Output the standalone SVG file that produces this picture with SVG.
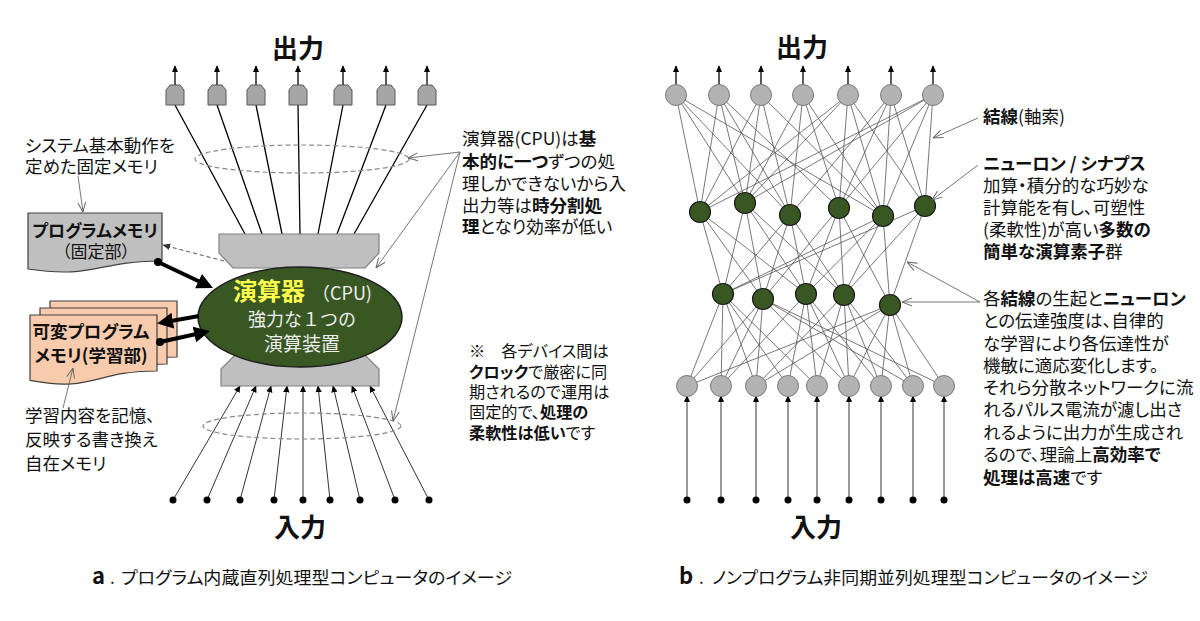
<svg xmlns="http://www.w3.org/2000/svg" width="1200" height="621" viewBox="0 0 1200 621">
<style>
text{font-family:"Noto Sans CJK JP","Noto Sans CJK SC",sans-serif;fill:#111;font-feature-settings:"palt";}
.b{font-weight:bold}
.ttl{font-size:26px;font-weight:bold;text-anchor:middle}
.s18{font-size:17.5px}
.s17{font-size:17px}
.s16{font-size:16.2px}
.cpu{fill:#eeeeee;font-feature-settings:normal}
.lead{stroke:#666;stroke-width:0.9;fill:none;marker-end:url(#open)}
.net{stroke:#555;stroke-width:0.8;fill:none}
.gnode{fill:#b3b3b3;stroke:#7a7a7a;stroke-width:1}
.hnode{fill:#385723;stroke:#1a1a1a;stroke-width:1.2}
.dot{fill:#000}
.inl{stroke:#333;stroke-width:1;marker-end:url(#arr)}
.outl{stroke:#000;stroke-width:1.3}
.dash{fill:none;stroke:#8a8a8a;stroke-width:1.2;stroke-dasharray:5 3}
.pent{fill:#a6a6a6;stroke:#595959;stroke-width:1}
.doc{stroke:#404040;stroke-width:1.2}
</style>
<defs>
<marker id="arr" viewBox="0 0 10 10" refX="9" refY="5" markerWidth="7" markerHeight="7" orient="auto" markerUnits="userSpaceOnUse"><path d="M0,0.5 L10,5 L0,9.5 Z" fill="#000"/></marker>
<marker id="open" viewBox="0 0 10 10" refX="10" refY="5" markerWidth="10" markerHeight="10" orient="auto" markerUnits="userSpaceOnUse"><path d="M0,1 L10,5 L0,9" fill="none" stroke="#666" stroke-width="1"/></marker>
<marker id="big" viewBox="0 0 10 10" refX="2" refY="5" markerWidth="16" markerHeight="16" orient="auto" markerUnits="userSpaceOnUse"><path d="M0,0 L10,5 L0,10 Z" fill="#000"/></marker>
<marker id="sm" viewBox="0 0 10 10" refX="9" refY="5" markerWidth="8" markerHeight="8" orient="auto" markerUnits="userSpaceOnUse"><path d="M0,1 L10,5 L0,9 Z" fill="#333"/></marker>
<path id="pent" d="M-9,20 V5 L-5,0 H5 L9,5 V20 Z"/>
</defs>
<rect width="1200" height="621" fill="#fff"/>

<!-- ===== Left panel ===== -->
<text class="ttl" x="298" y="58">出力</text>
<text class="ttl" x="300" y="537">入力</text>

<g id="connectors-left">
  <path class="outl" d="M175,105 L245,234 M217,105 L262,234 M256,105 L282,234 M298,105 L300,234 M343,105 L318,234 M386,105 L337,234 M427,105 L354,234"/>
  <g class="outl" style="marker-end:url(#arr)">
    <line x1="175" y1="85" x2="175" y2="66"/><line x1="217" y1="85" x2="217" y2="66"/><line x1="256" y1="85" x2="256" y2="66"/><line x1="298" y1="85" x2="298" y2="66"/><line x1="343" y1="85" x2="343" y2="66"/><line x1="386" y1="85" x2="386" y2="66"/><line x1="427" y1="85" x2="427" y2="66"/>
  </g>
  <line class="inl" x1="173" y1="500" x2="240" y2="386"/>
  <line class="inl" x1="207" y1="500" x2="256" y2="386"/>
  <line class="inl" x1="240" y1="500" x2="271" y2="386"/>
  <line class="inl" x1="274" y1="500" x2="287" y2="386"/>
  <line class="inl" x1="303" y1="500" x2="303" y2="386"/>
  <line class="inl" x1="330" y1="500" x2="318" y2="386"/>
  <line class="inl" x1="360" y1="500" x2="333" y2="386"/>
  <line class="inl" x1="395" y1="500" x2="352" y2="386"/>
  <line class="inl" x1="429" y1="500" x2="370" y2="386"/>
  <g class="dot"><circle cx="173" cy="500" r="3.5"/><circle cx="207" cy="500" r="3.5"/><circle cx="240" cy="500" r="3.5"/><circle cx="274" cy="500" r="3.5"/><circle cx="303" cy="500" r="3.5"/><circle cx="330" cy="500" r="3.5"/><circle cx="360" cy="500" r="3.5"/><circle cx="395" cy="500" r="3.5"/><circle cx="429" cy="500" r="3.5"/></g>
  <ellipse class="dash" cx="302" cy="159" rx="107" ry="14"/>
  <ellipse class="dash" cx="302" cy="426" rx="99" ry="13"/>
</g>

<g id="outputs-left">
  <use href="#pent" class="pent" x="175" y="85"/><use href="#pent" class="pent" x="217" y="85"/><use href="#pent" class="pent" x="256" y="85"/><use href="#pent" class="pent" x="298" y="85"/><use href="#pent" class="pent" x="343" y="85"/><use href="#pent" class="pent" x="386" y="85"/><use href="#pent" class="pent" x="427" y="85"/>
</g>

<g id="program-memory">
  <path class="doc" fill="#c0c0c0" d="M28,213 H162 V261 C95,261 95,279 28,269 Z"/>
  <text class="s17 b" x="95" y="237" text-anchor="middle">プログラムメモリ</text>
  <text class="s17" x="96" y="258" text-anchor="middle">（固定部）</text>
</g>

<g id="variable-memory">
  <path class="doc" fill="#f8cbad" d="M50,301 H177 V357 C113.5,357 113.5,378.5 50,366.4 Z"/>
  <path class="doc" fill="#f8cbad" d="M40,308 H167 V364 C103.5,364 103.5,385.5 40,373.4 Z"/>
  <path class="doc" fill="#f8cbad" d="M30,315 H157 V371 C93.5,371 93.5,392.5 30,380.4 Z"/>
  <text class="s18 b" x="91" y="338" text-anchor="middle">可変プログラム</text>
  <text class="s18 b" x="91" y="362" text-anchor="middle">メモリ(学習部)</text>
</g>

<g id="cpu">
  <path fill="#bfbfbf" stroke="#808080" stroke-width="1.2" d="M219,234 H379 V253 L365,268 H233 L219,253 Z"/>
  <path fill="#bfbfbf" stroke="#808080" stroke-width="1.2" d="M235,355 H365 L379,369 V386 H221 V369 Z"/>
  <ellipse cx="300" cy="317" rx="102" ry="50" fill="#385723" stroke="#1f1f1f" stroke-width="1.5"/>
  <text x="233" y="300" font-size="24" font-weight="bold" style="fill:#ffff4d">演算器</text>
  <text class="cpu" x="312" y="300" font-size="18">（CPU)</text>
  <text class="cpu" x="302" y="326" font-size="18" text-anchor="middle">強力な１つの</text>
  <text class="cpu" x="302" y="351" font-size="19" text-anchor="middle">演算装置</text>
</g>

<g id="memory-arrows">
  <line x1="224" y1="261" x2="163" y2="245" stroke="#555" stroke-width="1" stroke-dasharray="4 3" marker-end="url(#sm)"/>
  <circle cx="158" cy="262" r="4" fill="#000"/>
  <line x1="158" y1="262" x2="201.4" y2="282.5" stroke="#000" stroke-width="4" marker-end="url(#big)"/>
  <line x1="199" y1="316" x2="169.7" y2="321.2" stroke="#000" stroke-width="4" marker-end="url(#big)"/>
  <circle cx="160" cy="342" r="4" fill="#000"/>
  <line x1="160" y1="342" x2="197.5" y2="333.8" stroke="#000" stroke-width="4" marker-end="url(#big)"/>
</g>

<g id="notes-left">
  <line class="lead" x1="78" y1="176" x2="83" y2="212"/>
  <text class="s18" x="25" y="152">システム基本動作を</text>
  <text class="s18" x="25" y="173">定めた固定メモリ</text>
  <line class="lead" x1="63" y1="408" x2="73" y2="368"/>
  <text class="s18" x="25" y="422">学習内容を記憶、</text>
  <text class="s18" x="25" y="446">反映する書き換え</text>
  <text class="s18" x="25" y="470">自在メモリ</text>
  <line class="lead" x1="460" y1="152" x2="408" y2="158"/>
  <line class="lead" x1="460" y1="152" x2="376" y2="268"/>
  <line class="lead" x1="460" y1="152" x2="393" y2="421"/>
  <g class="s18">
    <text x="462" y="145">演算器(CPU)は<tspan class="b">基</tspan></text>
    <text x="462" y="168"><tspan class="b">本的に一つ</tspan>ずつの処</text>
    <text x="462" y="190">理しかできないから入</text>
    <text x="462" y="212">出力等は<tspan class="b">時分割処</tspan></text>
    <text x="462" y="233"><tspan class="b">理</tspan>となり効率が低い</text>
  </g>
  <g class="s16">
    <text x="469" y="357">※　各デバイス間は</text>
    <text x="469" y="378"><tspan class="b">クロック</tspan>で厳密に同</text>
    <text x="469" y="398">期されるので運用は</text>
    <text x="469" y="418">固定的で、<tspan class="b">処理の</tspan></text>
    <text x="469" y="439"><tspan class="b">柔軟性は低い</tspan>です</text>
  </g>
</g>

<g id="caption-a">
  <text x="92" y="584" font-size="22" font-weight="bold">a</text>
  <text x="110" y="584" font-size="17">.</text>
  <text x="121" y="584" font-size="17" textLength="391" lengthAdjust="spacingAndGlyphs">プログラム内蔵直列処理型コンピュータのイメージ</text>
</g>

<!-- ===== Right panel ===== -->
<text class="ttl" x="802" y="57">出力</text>
<text class="ttl" x="816" y="537">入力</text>

<g id="connectors-right">
  <path class="net" d="M676,95L700,212 M676,95L745,203 M676,95L790,215 M676,95L883,216 M719,95L700,212 M719,95L745,203 M719,95L790,215 M719,95L839,208 M761,95L700,212 M761,95L745,203 M761,95L790,215 M761,95L883,216 M803,95L745,203 M803,95L790,215 M803,95L839,208 M803,95L883,216 M848,95L700,212 M848,95L745,203 M848,95L839,208 M848,95L883,216 M848,95L925,206 M891,95L790,215 M891,95L839,208 M891,95L883,216 M891,95L925,206 M933,95L700,212 M933,95L745,203 M933,95L839,208 M933,95L883,216 M933,95L925,206"/>
  <path class="net" d="M700,212L723,294 M700,212L763,299 M700,212L806,294 M745,203L723,294 M745,203L763,299 M745,203L806,294 M745,203L844,295 M790,215L723,294 M790,215L763,299 M790,215L806,294 M790,215L844,295 M839,208L763,299 M839,208L806,294 M839,208L844,295 M839,208L890,305 M883,216L723,294 M883,216L806,294 M883,216L844,295 M883,216L890,305 M925,206L723,294 M925,206L844,295 M925,206L890,305"/>
  <path class="net" d="M723,294L687,386 M723,294L721,386 M723,294L756,386 M723,294L788,386 M723,294L817,386 M763,299L687,386 M763,299L721,386 M763,299L756,386 M763,299L849,386 M763,299L913,386 M763,299L944,386 M806,294L721,386 M806,294L788,386 M806,294L817,386 M806,294L849,386 M806,294L881,386 M844,295L756,386 M844,295L817,386 M844,295L849,386 M844,295L881,386 M844,295L913,386 M890,305L687,386 M890,305L756,386 M890,305L849,386 M890,305L881,386 M890,305L913,386 M890,305L944,386"/>
  <g class="outl" style="marker-end:url(#arr)">
    <line x1="676" y1="84" x2="676" y2="66"/><line x1="719" y1="84" x2="719" y2="66"/><line x1="761" y1="84" x2="761" y2="66"/><line x1="803" y1="84" x2="803" y2="66"/><line x1="848" y1="84" x2="848" y2="66"/><line x1="891" y1="84" x2="891" y2="66"/><line x1="933" y1="84" x2="933" y2="66"/>
  </g>
  <g class="inl">
    <line x1="687" y1="500" x2="687" y2="396"/><line x1="721" y1="500" x2="721" y2="396"/><line x1="756" y1="500" x2="756" y2="396"/><line x1="788" y1="500" x2="788" y2="396"/><line x1="817" y1="500" x2="817" y2="396"/><line x1="849" y1="500" x2="849" y2="396"/><line x1="881" y1="500" x2="881" y2="396"/><line x1="913" y1="500" x2="913" y2="396"/><line x1="944" y1="500" x2="944" y2="396"/>
  </g>
  <g class="dot"><circle cx="687" cy="500" r="3.5"/><circle cx="721" cy="500" r="3.5"/><circle cx="756" cy="500" r="3.5"/><circle cx="788" cy="500" r="3.5"/><circle cx="817" cy="500" r="3.5"/><circle cx="849" cy="500" r="3.5"/><circle cx="881" cy="500" r="3.5"/><circle cx="913" cy="500" r="3.5"/><circle cx="944" cy="500" r="3.5"/></g>
</g>

<g id="output-neurons">
  <circle class="gnode" cx="676" cy="95" r="10.5"/><circle class="gnode" cx="719" cy="95" r="10.5"/><circle class="gnode" cx="761" cy="95" r="10.5"/><circle class="gnode" cx="803" cy="95" r="10.5"/><circle class="gnode" cx="848" cy="95" r="10.5"/><circle class="gnode" cx="891" cy="95" r="10.5"/><circle class="gnode" cx="933" cy="95" r="10.5"/>
</g>
<g id="hidden-neurons-1">
  <circle class="hnode" cx="700" cy="212" r="10.5"/><circle class="hnode" cx="745" cy="203" r="10.5"/><circle class="hnode" cx="790" cy="215" r="10.5"/><circle class="hnode" cx="839" cy="208" r="10.5"/><circle class="hnode" cx="883" cy="216" r="10.5"/><circle class="hnode" cx="925" cy="206" r="10.5"/>
</g>
<g id="hidden-neurons-2">
  <circle class="hnode" cx="723" cy="294" r="10.5"/><circle class="hnode" cx="763" cy="299" r="10.5"/><circle class="hnode" cx="806" cy="294" r="10.5"/><circle class="hnode" cx="844" cy="295" r="10.5"/><circle class="hnode" cx="890" cy="305" r="10.5"/>
</g>
<g id="input-neurons">
  <circle class="gnode" cx="687" cy="386" r="10.5"/><circle class="gnode" cx="721" cy="386" r="10.5"/><circle class="gnode" cx="756" cy="386" r="10.5"/><circle class="gnode" cx="788" cy="386" r="10.5"/><circle class="gnode" cx="817" cy="386" r="10.5"/><circle class="gnode" cx="849" cy="386" r="10.5"/><circle class="gnode" cx="881" cy="386" r="10.5"/><circle class="gnode" cx="913" cy="386" r="10.5"/><circle class="gnode" cx="944" cy="386" r="10.5"/>
</g>

<g id="notes-right">
  <line class="lead" x1="978" y1="118" x2="933" y2="138"/>
  <line class="lead" x1="978" y1="165" x2="932" y2="200"/>
  <line class="lead" x1="980" y1="302" x2="907" y2="262"/>
  <line class="lead" x1="980" y1="302" x2="902" y2="302"/>
  <text class="s18" x="983" y="123"><tspan class="b">結線</tspan>(軸索)</text>
  <g class="s18">
    <text x="983" y="170" class="b">ニューロン / シナプス</text>
    <text x="983" y="192">加算・積分的な巧妙な</text>
    <text x="983" y="214">計算能を有し、可塑性</text>
    <text x="983" y="236">(柔軟性)が高い<tspan class="b">多数の</tspan></text>
    <text x="983" y="258"><tspan class="b">簡単な演算素子</tspan>群</text>
  </g>
  <g class="s18">
    <text x="983" y="305">各<tspan class="b">結線</tspan>の生起と<tspan class="b">ニューロン</tspan></text>
    <text x="983" y="327">との伝達強度は、自律的</text>
    <text x="983" y="350">な学習により各伝達性が</text>
    <text x="983" y="372">機敏に適応変化します。</text>
    <text x="983" y="394">それら分散ネットワークに流</text>
    <text x="983" y="416">れるパルス電流が濾し出さ</text>
    <text x="983" y="439">れるように出力が生成され</text>
    <text x="983" y="461">るので、理論上<tspan class="b">高効率で</tspan></text>
    <text x="983" y="484"><tspan class="b">処理は高速</tspan>です</text>
  </g>
</g>

<g id="caption-b">
  <text x="679" y="584" font-size="22" font-weight="bold">b</text>
  <text x="699" y="584" font-size="17">.</text>
  <text x="712" y="584" font-size="17" textLength="436" lengthAdjust="spacingAndGlyphs">ノンプログラム非同期並列処理型コンピュータのイメージ</text>
</g>
</svg>
